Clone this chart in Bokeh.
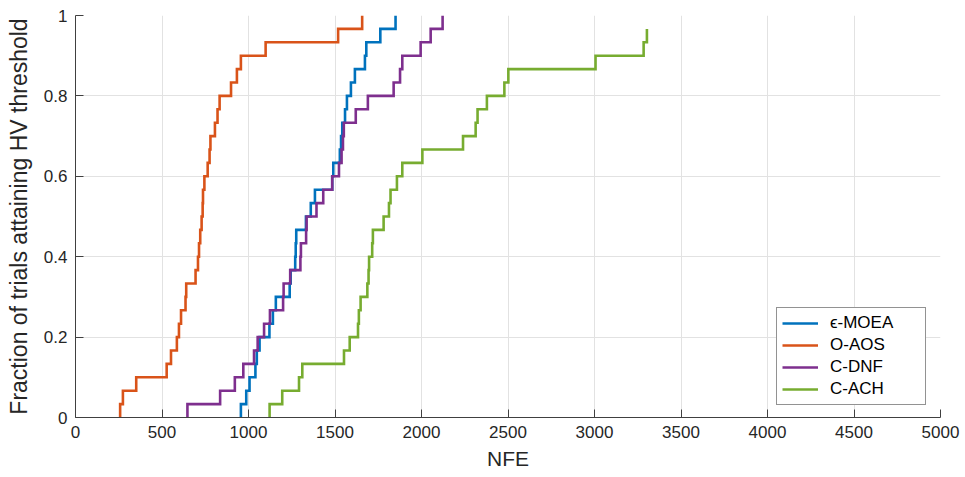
from bokeh.plotting import figure
from bokeh.models import Range1d, FixedTicker, Legend, LegendItem
from bokeh.embed import file_html
from bokeh.resources import INLINE

# ---------------- data ----------------
N_TRIALS = 30
series_names = ["ϵ-MOEA", "O-AOS", "C-DNF", "C-ACH"]
series_colors = ["#0072BD", "#D95319", "#7E2F8E", "#77AC30"]

# NFE at which each trial attained the HV threshold (sorted)
nfe_eps_moea = [956, 987, 1006, 1040, 1048, 1064, 1121, 1141, 1158, 1238,
                1244, 1270, 1273, 1276, 1332, 1360, 1384, 1484, 1490, 1528,
                1535, 1542, 1558, 1569, 1592, 1615, 1673, 1681, 1762, 1850]
nfe_o_aos = [258, 274, 351, 527, 552, 586, 598, 610, 636, 640,
             694, 708, 714, 721, 729, 735, 737, 745, 764, 775,
             780, 806, 821, 833, 899, 933, 956, 1099, 1518, 1657]
nfe_c_dnf = [647, 836, 921, 970, 1032, 1053, 1090, 1124, 1200, 1203,
             1241, 1300, 1303, 1333, 1336, 1393, 1432, 1484, 1523, 1538,
             1546, 1551, 1620, 1690, 1839, 1876, 1889, 1995, 2053, 2122]
nfe_c_ach = [1122, 1195, 1292, 1311, 1552, 1585, 1633, 1638, 1648, 1687,
             1694, 1697, 1715, 1719, 1781, 1812, 1821, 1858, 1889, 2005,
             2240, 2313, 2324, 2378, 2479, 2502, 3006, 3284, 3303]

x_ticks = [0, 500, 1000, 1500, 2000, 2500, 3000, 3500, 4000, 4500, 5000]
y_ticks = [0, 0.2, 0.4, 0.6, 0.8, 1]
y_tick_labels = ["0", "0.2", "0.4", "0.6", "0.8", "1"]

x_label = "NFE"
y_label = "Fraction of trials attaining HV threshold"

# ---------------- figure ----------------
FONT = "Liberation Sans"
TXT = "#262626"

p = figure(width=965, height=477, output_backend="svg", toolbar_location=None,
           x_range=Range1d(0, 5000), y_range=Range1d(0, 1),
           min_border_left=75, min_border_right=25, min_border_top=15,
           min_border_bottom=60)
p.outline_line_color = None
p.background_fill_color = "white"
p.border_fill_color = "white"

for ax in (p.xaxis[0], p.yaxis[0]):
    ax.axis_line_color = "#404040"
    ax.axis_line_width = 1
    ax.major_tick_line_color = "#404040"
    ax.major_tick_in = 8
    ax.major_tick_out = 0
    ax.minor_tick_line_color = None
    ax.major_label_text_font = FONT
    ax.major_label_text_font_size = "17px"
    ax.major_label_text_color = TXT
    ax.axis_label_text_font = FONT
    ax.axis_label_text_font_style = "normal"
    ax.axis_label_text_color = TXT
    ax.major_label_standoff = 8

p.xaxis.axis_label_text_font_size = "21px"
p.yaxis.axis_label_text_font_size = "23px"
p.xaxis.ticker = FixedTicker(ticks=x_ticks)
p.yaxis.ticker = FixedTicker(ticks=y_ticks)
p.yaxis.major_label_overrides = {t: s for t, s in zip(y_ticks, y_tick_labels)}
p.xaxis.axis_label = x_label
p.yaxis.axis_label = y_label
p.xaxis.axis_label_standoff = 6
p.yaxis.axis_label_standoff = 9

p.xgrid.ticker = FixedTicker(ticks=x_ticks)
p.ygrid.ticker = FixedTicker(ticks=y_ticks)
for g in (p.xgrid[0], p.ygrid[0]):
    g.grid_line_color = "#e2e2e2"
    g.grid_line_width = 1

# ---------------- ECDF step lines ----------------
all_series = [nfe_eps_moea, nfe_o_aos, nfe_c_dnf, nfe_c_ach]
items = []
for name, color, nfe in zip(series_names, series_colors, all_series):
    xs = [nfe[0]] + list(nfe)
    ys = [0.0] + [(k + 1) / N_TRIALS for k in range(len(nfe))]
    r = p.step(x=xs, y=ys, mode="after", line_color=color, line_width=2.6,
               line_join="miter")
    items.append(LegendItem(label=name, renderers=[r]))

legend = Legend(items=items, location=(701, 12))
legend.label_text_font = FONT
legend.label_text_font_size = "17px"
legend.label_text_color = "#000000"
legend.border_line_color = "#262626"
legend.border_line_width = 1
legend.background_fill_color = "white"
legend.background_fill_alpha = 1
legend.glyph_width = 36
legend.glyph_height = 20
legend.label_height = 20
legend.label_width = 90
legend.label_standoff = 12
legend.spacing = 2
legend.padding = 5
legend.margin = 0
p.add_layout(legend, "center")

open("out.html", "w").write(file_html(p, INLINE))
